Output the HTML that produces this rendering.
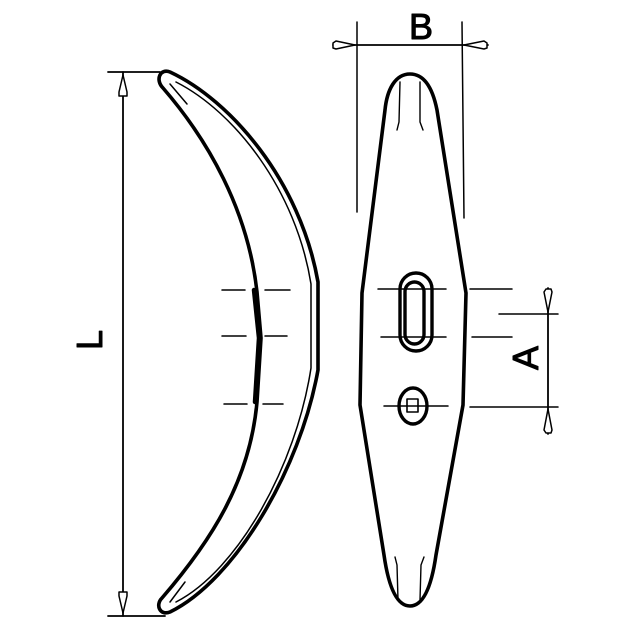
<!DOCTYPE html>
<html><head><style>html,body{margin:0;padding:0;background:#fff}svg{display:block}</style></head>
<body>
<svg width="640" height="640" viewBox="0 0 640 640" xmlns="http://www.w3.org/2000/svg" fill="none" stroke="#000" stroke-linecap="round" stroke-linejoin="round">
<!-- L dimension -->
<line x1="108" y1="72" x2="160" y2="72" stroke-width="1.8"/>
<line x1="108" y1="616" x2="165" y2="616" stroke-width="1.8"/>
<line x1="123" y1="72" x2="123" y2="616" stroke-width="1.8"/>
<path d="M123 75 L119 92 L119 96 L127 96 L127 92 Z" stroke-width="1.5" fill="#fff"/>
<path d="M123 613 L119 596 L119 592 L127 592 L127 596 Z" stroke-width="1.5" fill="#fff"/>
<text x="102" y="340" font-family="Liberation Sans, sans-serif" font-size="36" fill="#000" stroke="#000" stroke-width="1" transform="rotate(-90 102 340)" text-anchor="middle">L</text>
<!-- crescent -->
<path d="M170 72 C230 100 300 180 318 282 L318 370 C300 470 235 580 170 612 C160 616 155 605 162 598 C212 540 250 480 257 402 L261 338 L257 292 C248 210 208 140 163 88 C155 80 160 68 170 72 Z" stroke-width="3.6"/>
<path d="M176 82 C235 112 296 190 311 284 L311 368 C296 466 238 570 176 602" stroke-width="1.5"/>
<line x1="170" y1="84" x2="187" y2="104" stroke-width="1.5"/>
<line x1="170" y1="602" x2="185" y2="582" stroke-width="1.5"/>
<path d="M254 290 L259 338 L255 402" stroke-width="4.5"/>
<line x1="222" y1="290" x2="245" y2="290" stroke-width="1.5"/>
<line x1="265" y1="290" x2="290" y2="290" stroke-width="1.5"/>
<line x1="222" y1="336" x2="246" y2="336" stroke-width="1.5"/>
<line x1="265" y1="336" x2="287" y2="336" stroke-width="1.5"/>
<line x1="224" y1="404" x2="247" y2="404" stroke-width="1.5"/>
<line x1="263" y1="404" x2="283" y2="404" stroke-width="1.5"/>
<!-- B dimension -->
<line x1="357" y1="22" x2="357" y2="212" stroke-width="1.5"/>
<line x1="462" y1="22" x2="464" y2="218" stroke-width="1.5"/>
<line x1="333" y1="45" x2="488" y2="45" stroke-width="1.8"/>
<path d="M355 45 L336 41 L333 43 L333 48 L336 49 Z" stroke-width="1.5" fill="#fff"/>
<path d="M464 45 L484 41 L487 43 L487 48 L484 49 Z" stroke-width="1.5" fill="#fff"/>
<text x="421" y="39" font-family="Liberation Sans, sans-serif" font-size="36" fill="#000" stroke="#000" stroke-width="1" text-anchor="middle">B</text>
<!-- body -->
<path d="M410 74 C395 74 387 90 385 110 L362 293 L360 405 L384 555 C389 590 398 606 410 606 C422 606 431 590 436 555 L463 405 L466 293 L437 110 C433 90 425 74 410 74 Z" stroke-width="3.6"/>
<path d="M400 82 L399 122 L397 130 M420 82 L420 122 L423 130" stroke-width="1.4"/>
<path d="M398 600 L397 565 L395 557 M420 600 L421 565 L424 557" stroke-width="1.4"/>
<rect x="400" y="273" width="32" height="78" rx="16" stroke-width="3.4"/>
<rect x="405" y="282" width="19" height="62" rx="9.5" stroke-width="3.4"/>
<line x1="378" y1="289" x2="446" y2="289" stroke-width="1.5"/>
<line x1="381" y1="337" x2="446" y2="337" stroke-width="1.5"/>
<ellipse cx="413" cy="406" rx="14" ry="18" stroke-width="3.4"/>
<rect x="407" y="399" width="11" height="13" stroke-width="1.6"/>
<line x1="384" y1="406" x2="448" y2="406" stroke-width="1.5"/>
<!-- A dimension -->
<line x1="470" y1="289" x2="512" y2="289" stroke-width="1.5"/>
<line x1="472" y1="337" x2="512" y2="337" stroke-width="1.5"/>
<line x1="499" y1="314" x2="558" y2="314" stroke-width="1.5"/>
<line x1="470" y1="407" x2="558" y2="407" stroke-width="1.5"/>
<line x1="548" y1="288" x2="548" y2="434" stroke-width="1.8"/>
<path d="M548 312 L544 292 L546 289 L551 289 L552 292 Z" stroke-width="1.5" fill="#fff"/>
<path d="M548 409 L544 430 L546 433 L551 433 L552 430 Z" stroke-width="1.5" fill="#fff"/>
<text x="538" y="358" font-family="Liberation Sans, sans-serif" font-size="36" fill="#000" stroke="#000" stroke-width="1" transform="rotate(-90 538 358)" text-anchor="middle">A</text>
</svg>
</body></html>
